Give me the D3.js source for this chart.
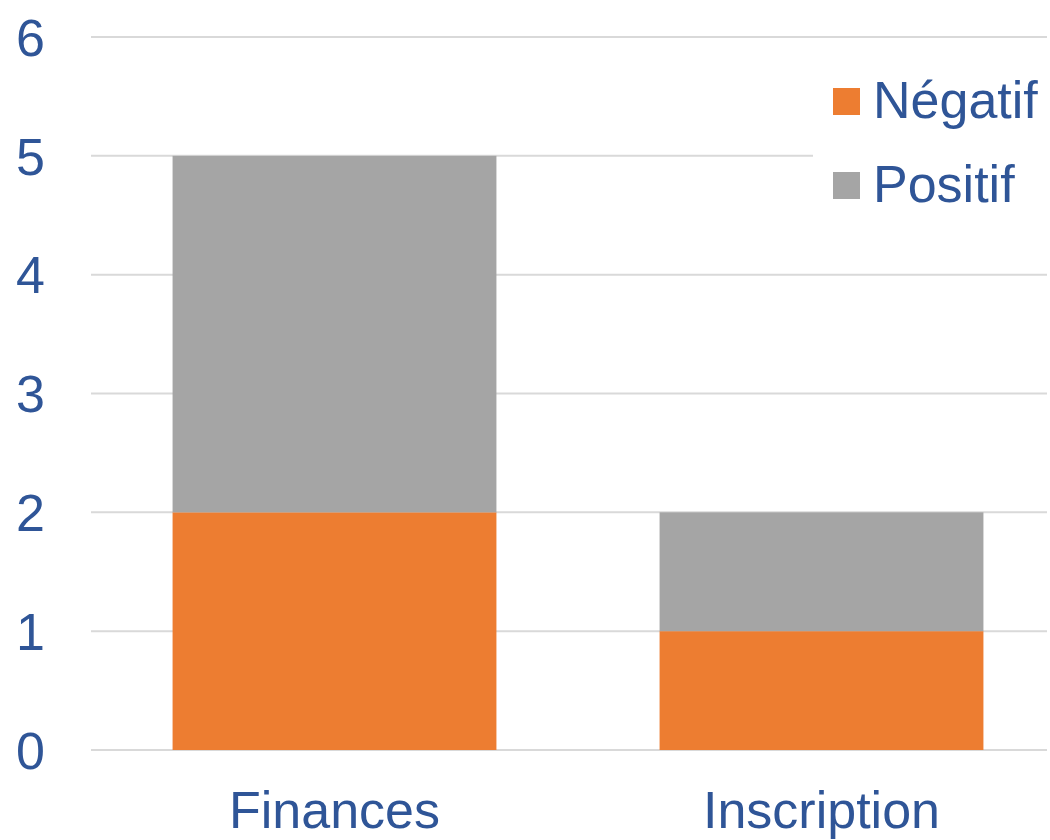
<!DOCTYPE html>
<html>
<head>
<meta charset="utf-8">
<script src="https://cdn.jsdelivr.net/npm/d3@7"></script>
<style>
  body { margin: 0; background: #fff; }
  text { font-family: "Liberation Sans", Arial, Helvetica, sans-serif; fill: #2F5597; }
</style>
</head>
<body>
<svg id="chart"></svg>
<script>
var categories = ["Finances", "Inscription"];
var negatif = [2, 1];
var positif = [3, 1];
var yTicks = [0, 1, 2, 3, 4, 5, 6];
var seriesNames = ["Négatif", "Positif"];

var width = 1050, height = 840;
var colors = { "Négatif": "#ED7D31", "Positif": "#A5A5A5" };

var svg = d3.select("#chart").attr("width", width).attr("height", height);

var table = categories.map(function (c, i) {
  return { cat: c, "Négatif": negatif[i], "Positif": positif[i] };
});

var x = d3.scaleBand().domain(categories).range([91, 1065])
  .paddingInner(0.335).paddingOuter(0.1675);
var y = d3.scaleLinear().domain([0, 6]).range([750, 37]);

// grid
svg.append("g")
  .selectAll("line")
  .data(yTicks)
  .enter()
  .append("line")
  .attr("x1", 91)
  .attr("x2", 1047)
  .attr("y1", function (d) { return y(d); })
  .attr("y2", function (d) { return y(d); })
  .attr("stroke", "#D9D9D9")
  .attr("stroke-width", 2);

// tick labels
svg.append("g")
  .selectAll("text")
  .data(yTicks)
  .enter()
  .append("text")
  .attr("x", 45)
  .attr("y", function (d) { return y(d); })
  .attr("dy", "0.36em")
  .attr("text-anchor", "end")
  .style("font-size", "52px")
  .text(function (d) { return d; });

var stacked = d3.stack().keys(seriesNames)(table);

svg.append("g")
  .selectAll("g")
  .data(stacked)
  .enter()
  .append("g")
  .attr("fill", function (d) { return colors[d.key]; })
  .selectAll("rect")
  .data(function (d) { return d; })
  .enter()
  .append("rect")
  .attr("x", function (d) { return x(d.data.cat); })
  .attr("width", x.bandwidth())
  .attr("y", function (d) { return y(d[1]); })
  .attr("height", function (d) { return y(d[0]) - y(d[1]); });

// category labels
svg.append("g")
  .selectAll("text")
  .data(categories)
  .enter()
  .append("text")
  .attr("x", function (d) { return x(d) + x.bandwidth() / 2; })
  .attr("y", 828)
  .attr("text-anchor", "middle")
  .style("font-size", "52px")
  .text(function (d) { return d; });

// legend
var legend = svg.append("g");
legend.append("rect")
  .attr("x", 813).attr("y", 62).attr("width", 234).attr("height", 160)
  .attr("fill", "#fff");
var items = legend.selectAll("g.item")
  .data(seriesNames)
  .enter()
  .append("g")
  .attr("class", "item")
  .attr("transform", function (d, i) { return "translate(833," + (88 + i * 84) + ")"; });
items.append("rect")
  .attr("width", 27).attr("height", 27)
  .attr("fill", function (d) { return colors[d]; });
items.append("text")
  .attr("x", 40)
  .attr("y", 30)
  .style("font-size", "52px")
  .text(function (d) { return d; });
</script>
</body>
</html>
